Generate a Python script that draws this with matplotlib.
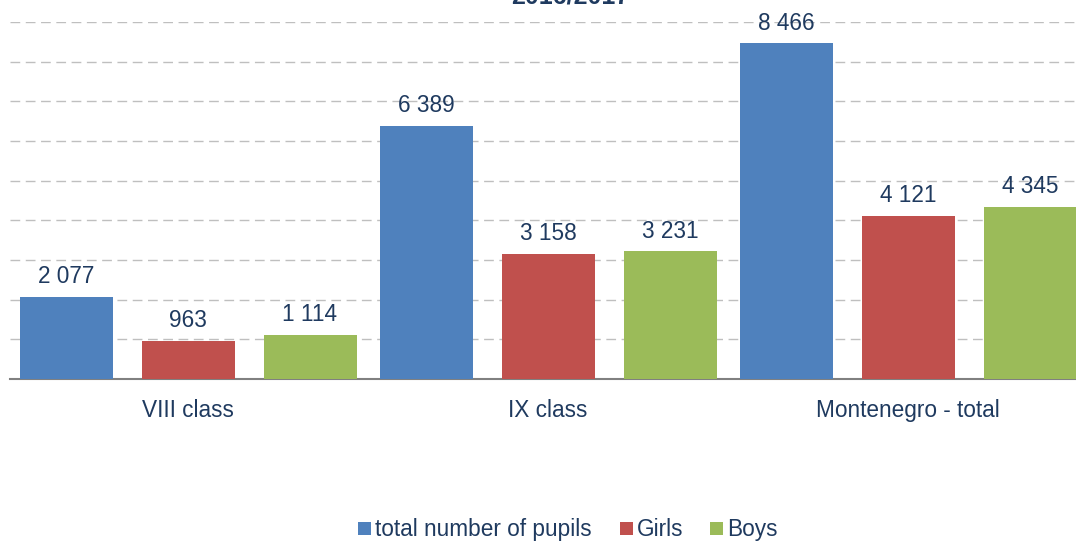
import matplotlib
matplotlib.use("Agg")
import matplotlib.pyplot as plt
from matplotlib.patches import Rectangle
import numpy as np

plt.rcParams['font.family'] = ['Liberation Sans', 'DejaVu Sans']

categories = ["VIII class", "IX class", "Montenegro - total"]
series_names = ["total number of pupils", "Girls", "Boys"]
total = [2077, 6389, 8466]
girls = [963, 3158, 4121]
boys = [1114, 3231, 4345]
title = "2016/2017"

colors = ["#4F81BD", "#C0504D", "#9BBB59"]
text_color = "#1F3A5F"
fs = 16.3

W, H = 1076, 542
fig = plt.figure(figsize=(W / 100, H / 100), dpi=100)
ax = fig.add_axes([10 / W, 1 - 379 / H, 1 - 10 / W, (379 - 22) / H])

x = np.arange(len(categories))
offset = 122 / 360
width = 93 / 360

def fmt(v):
    return f"{v:,}".replace(",", " ")

for i, (vals, name) in enumerate(zip([total, girls, boys], series_names)):
    pos = x + (i - 1) * offset
    ax.bar(pos, vals, width=width, color=colors[i], label=name, zorder=3)
    for p, v in zip(pos, vals):
        ax.annotate(fmt(v), (p, v), xytext=(0, 6), textcoords="offset points",
                    ha="center", va="bottom", fontsize=fs, color=text_color, zorder=4)

ax.set_xlim(-178 / 360, (1076 - 188) / 360)
ax.set_ylim(0, 9000)
ax.set_yticks(np.arange(0, 9001, 1000))
ax.yaxis.grid(True, linestyle=(0, (7, 4)), color="#BFBFBF", linewidth=1, zorder=0)
ax.tick_params(axis="y", left=False, labelleft=False)
ax.tick_params(axis="x", bottom=False, labelsize=fs, labelcolor=text_color, pad=11)
ax.set_xticks(x)
ax.set_xticklabels(categories)
for s in ["top", "right", "left"]:
    ax.spines[s].set_visible(False)
ax.spines["bottom"].set_color("#808080")
ax.spines["bottom"].set_linewidth(1.5)

fig.text(570 / W, 1 - 4 / H, title, ha="center", va="baseline", fontsize=18,
         fontweight="bold", color=text_color)

# legend (manual, baseline-aligned entries)
marker_x = [358, 620, 710]
for mx, name, c in zip(marker_x, series_names, colors):
    fig.add_artist(Rectangle((mx / W, 1 - 535 / H), 13 / W, 13 / H,
                             transform=fig.transFigure, color=c, lw=0))
    fig.text((mx + 17) / W, 1 - 536 / H, name, ha="left", va="baseline",
             fontsize=fs, color=text_color)

fig.savefig("out.png", dpi=100)
